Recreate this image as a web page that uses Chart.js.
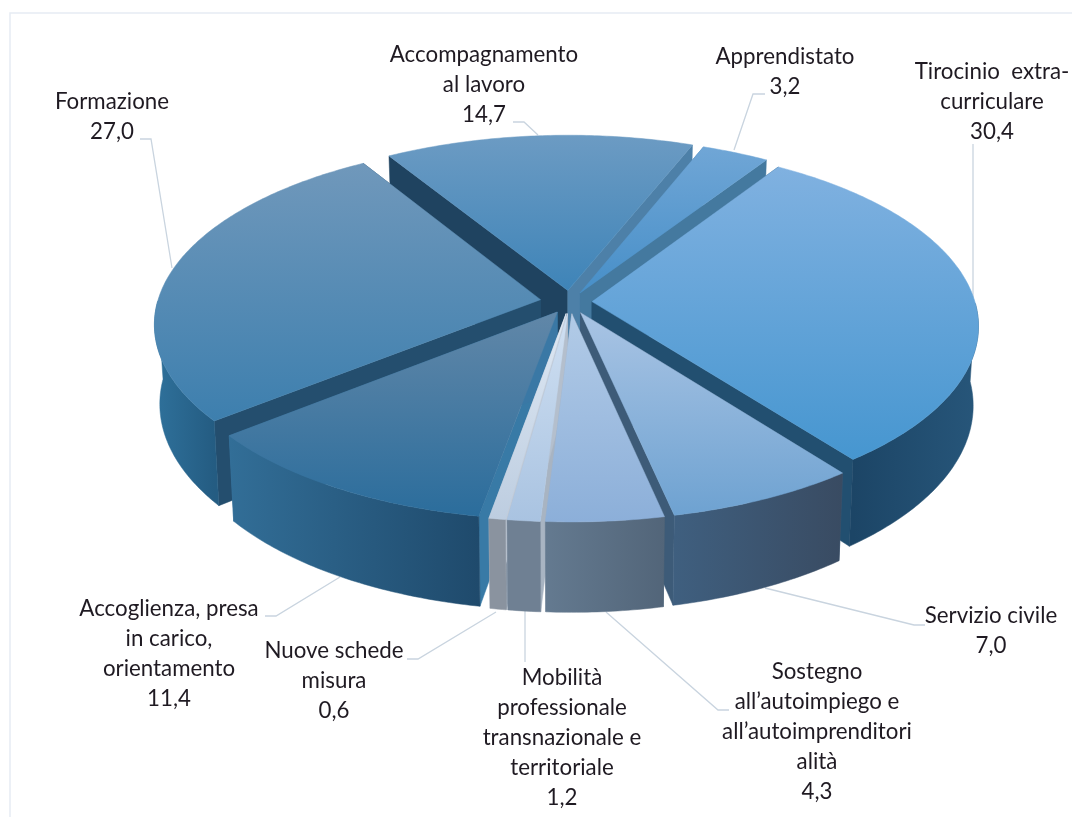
<!DOCTYPE html>
<html>
<head>
<meta charset="utf-8">
<style>html,body{margin:0;padding:0;background:#fff}canvas{display:block;filter:blur(0.45px)}</style>
<script src="https://cdn.jsdelivr.net/npm/chart.js@4"></script>
</head>
<body>
<canvas id="c" width="1072" height="817"></canvas>
<script>
// ---- data ----
const categories = ["Apprendistato","Tirocinio extra-curriculare","Servizio civile","Sostegno all’autoimpiego e all’autoimprenditorialità","Mobilità professionale transnazionale e territoriale","Nuove schede misura","Accoglienza, presa in carico, orientamento","Formazione","Accompagnamento al lavoro"];
const values = [3.2,30.4,7.0,4.3,1.2,0.6,11.4,27.0,14.7];
const labelLines = [
  ["Apprendistato"],
  ["Tirocinio  extra-","curriculare"],
  ["Servizio civile"],
  ["Sostegno","all’autoimpiego e","all’autoimprenditori","alità"],
  ["Mobilità","professionale","transnazionale e","territoriale"],
  ["Nuove schede","misura"],
  ["Accoglienza, presa","in carico,","orientamento"],
  ["Formazione"],
  ["Accompagnamento","al lavoro"]
];
// ---- styles & layout ----
const explode = [22,22,25,25,25,25,25,30,25];
const topLight = ["#70a6d6","#80b1e0","#a9c4e4","#b2cbe7","#d0e0f2","#dfe9f4","#6187a8","#7098bb","#6c9bc3"];
const topDark  = ["#478fc8","#4696d0","#6ea2d1","#8cafd9","#a9c3e1","#bdcde0","#2b6d9c","#3d7fae","#3e84b8"];
const sideLeft  = ["#4f7fa5","#1c4566","#3f5f7f","#647a90","#6f8093","#8a939f","#326e97","#2f719b","#33607f"];
const sideRight = ["#4f7fa5","#27567a","#394b62","#526579","#6f8093","#8a939f","#1f4a6c","#245c82","#33607f"];
const startWall = ["#4d85b0","#2a5a7c","#3a5a78","#3f5a73","#a8b4c2","#8a98a8","#387aa6","#244e6e","#1f4360"];
const endWall   = ["#44799f","#224f70","#3d5b78","#a4aebc","#b4bfcd","#c2cbd7","#3a78a5","#244e6e","#4d80a8"];
const labelX = [785,992,991,817,562,334,169,112,484];
const labelY = [57,72,616,672,678,651,609,102,55];
const lineH = 30;
const leaders = [
  [[765,94],[753,94],[734,150]],
  [[973,144],[973,298]],
  [[925,625],[914,625],[765,588]],
  [[729,710],[718,710],[606,612]],
  [[525,662],[525,611]],
  [[407,659],[418,659],[496,612]],
  [[265,616],[276,616],[340,577]],
  [[140,139],[151,139],[172,268]],
  [[513,122],[524,122],[538,135]]
];
const R = 383, CX = 570, CY = 302, P = 0.129, Q = 0.465, D = 78, KZ = 0.013;

function project(u, v, z) {
  const w = 1 - P * v / R;
  const k = 1 - KZ * z / D;
  return [CX + u / w * k, CY + (Q * v + z) / w];
}
function arcPts(el, z) {
  const mid = (el.startAngle + el.endAngle) / 2;
  const off = el.options.offset;
  const ox = Math.cos(mid) * off, oy = Math.sin(mid) * off;
  const n = Math.max(2, Math.ceil((el.endAngle - el.startAngle) / 0.012));
  const out = [], front = [];
  for (let i = 0; i <= n; i++) {
    const a = el.startAngle + (el.endAngle - el.startAngle) * i / n;
    const p = project(Math.cos(a) * el.outerRadius + ox, Math.sin(a) * el.outerRadius + oy, z);
    out.push(p);
    if (Math.sin(a) > 0) front.push(p);
  }
  return {pts: out, front, tip: project(ox, oy, z)};
}
function fillPoly(ctx, pts, style) {
  ctx.beginPath();
  pts.forEach((p, i) => i ? ctx.lineTo(p[0], p[1]) : ctx.moveTo(p[0], p[1]));
  ctx.closePath();
  ctx.fillStyle = style;
  ctx.strokeStyle = style;
  ctx.lineWidth = 0.5;
  ctx.fill();
  ctx.stroke();
}

const pie3d = {
  id: 'pie3d',
  beforeDraw(chart) {
    const ctx = chart.ctx;
    ctx.save();
    ctx.strokeStyle = '#e6ecf3';
    ctx.lineWidth = 1.5;
    ctx.beginPath();
    ctx.moveTo(10, 817); ctx.lineTo(10, 13); ctx.lineTo(1072, 13);
    ctx.stroke();
    ctx.restore();
  },
  beforeDatasetDraw(chart) {
    const ctx = chart.ctx;
    const arcs = chart.getDatasetMeta(0).data;
    const order = arcs.map((el, i) => i).sort((a, b) =>
      Math.sin((arcs[a].startAngle + arcs[a].endAngle) / 2) - Math.sin((arcs[b].startAngle + arcs[b].endAngle) / 2));
    // leader lines under the pie
    ctx.save();
    ctx.strokeStyle = '#c9d4df';
    ctx.lineWidth = 1.3;
    leaders.forEach(l => {
      ctx.beginPath();
      l.forEach((p, i) => i ? ctx.lineTo(p[0], p[1]) : ctx.moveTo(p[0], p[1]));
      ctx.stroke();
    });
    for (const i of order) {
      const el = arcs[i];
      const a = arcPts(el, 0), b = arcPts(el, D);
      const n = a.pts.length - 1;
      // radial walls
      fillPoly(ctx, [a.tip, a.pts[0], b.pts[0], b.tip], startWall[i]);
      fillPoly(ctx, [a.tip, a.pts[n], b.pts[n], b.tip], endWall[i]);
      // outer wall (only the part that faces the viewer)
      if (a.front.length > 1) {
        const xs = a.front.map(p => p[0]);
        const g = ctx.createLinearGradient(Math.min(...xs), 0, Math.max(...xs), 0);
        g.addColorStop(0, sideLeft[i]);
        g.addColorStop(1, sideRight[i]);
        fillPoly(ctx, a.front.concat(b.front.slice().reverse()), g);
      }
      // top
      const poly = [a.tip].concat(a.pts);
      const ys = poly.map(p => p[1]);
      const t = ctx.createLinearGradient(0, Math.min(...ys), 0, Math.max(...ys));
      t.addColorStop(0, topLight[i]);
      t.addColorStop(1, topDark[i]);
      fillPoly(ctx, poly, t);
    }
    // labels
    ctx.fillStyle = '#1f1a22';
    ctx.font = '22.3px Lato, Carlito, sans-serif';
    ctx.textAlign = 'center';
    ctx.textBaseline = 'middle';
    labelLines.forEach((lines, i) => {
      const all = lines.concat([values[i].toFixed(1).replace('.', ',')]);
      all.forEach((s, j) => ctx.fillText(s, labelX[i], labelY[i] + j * lineH));
    });
    ctx.restore();
    return false;
  }
};

new Chart(document.getElementById('c'), {
  type: 'pie',
  data: {
    labels: categories,
    datasets: [{ data: values, backgroundColor: topDark, borderWidth: 0, offset: explode }]
  },
  options: {
    responsive: false,
    animation: false,
    radius: R,
    rotation: 21.5,
    plugins: { legend: { display: false }, tooltip: { enabled: false } }
  },
  plugins: [pie3d]
});
</script>
</body>
</html>
